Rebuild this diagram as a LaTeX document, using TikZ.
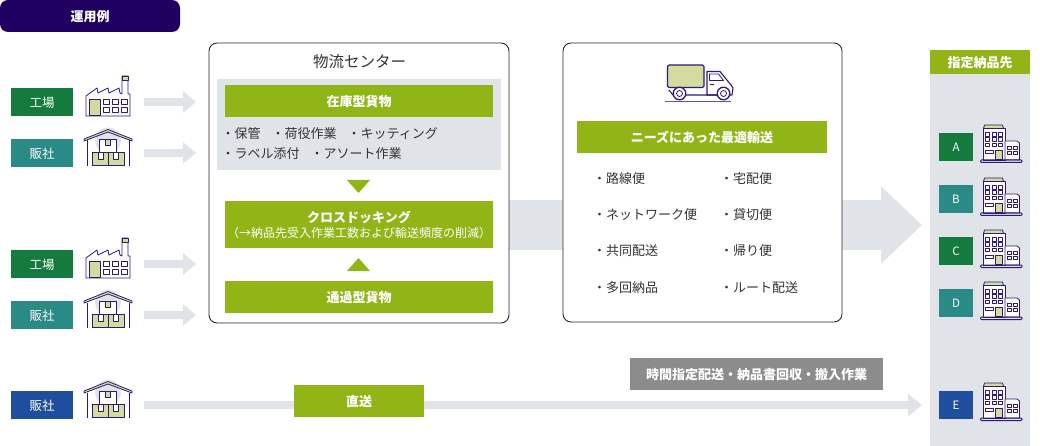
\documentclass[tikz,border=0pt]{standalone}
\usepackage{fontspec}
\setmainfont{Noto Sans CJK JP}
\usetikzlibrary{arrows.meta}
\pgfdeclarelayer{background}
\pgfsetlayers{background,main}
\definecolor{leaf}{HTML}{91B516}
\definecolor{leaflite}{HTML}{D3DC9E}
\definecolor{mist}{HTML}{E0E3E8}
\definecolor{plum}{HTML}{2D1A78}
\definecolor{night}{HTML}{1F0060}
\definecolor{forest}{HTML}{147A3E}
\definecolor{teal2}{HTML}{2A8A85}
\definecolor{navy2}{HTML}{1F4E9E}
\definecolor{ash}{HTML}{8C8C8C}
\definecolor{ink}{HTML}{333333}
\newcommand{\fs}[1]{\fontsize{#1}{#1}\selectfont}
\tikzstyle{tag}=[minimum width=62pt,minimum height=28pt,inner sep=0pt,text=white,text depth=0pt,font=\fs{12.5}]
\tikzstyle{dest}=[tag,minimum width=34pt,font=\fs{11.5}]
\tikzstyle{band}=[fill=leaf,inner sep=0pt,text=white,align=center,text depth=0pt,font=\fs{13}\bfseries]
\tikzstyle{panel}=[draw=black!85,fill=white,rounded corners=8pt,line width=0.9pt,inner sep=0pt]
\tikzstyle{item}=[anchor=west,inner sep=0pt,text=ink,font=\fs{13}]
\tikzstyle{flow}=[draw=mist,line width=8pt,-{Triangle[length=13pt,width=21pt]}]
\tikzstyle{icon}=[draw=plum,line width=0.8pt,line join=round]
\tikzset{
  factory/.pic={
    \path[icon,fill=white] (0,40) -- (0,20) -- (11,12) -- (12,17) -- (22,12) -- (23,17) -- (33,12) -- (34,17) -- (36,18) -- (36,0) -- (42,0) -- (42,18) -- (44,18) -- (44,40) -- cycle;
    \path[icon,fill=leaflite] (36,0) rectangle (42,4);
    \path[icon,fill=leaflite] (3.5,23) rectangle (14,39.5);
    \foreach \wx in {17,26,35}
      \foreach \wy in {23,31}
        \path[icon,line width=0.7pt] (\wx,\wy) rectangle +(6,5);
  },
  storehouse/.pic={
    \fill[mist] (24,11) circle (13);
    \path[icon] (3,11) -- (3,36.5) (45,11) -- (45,36.5);
    \path[icon,fill=white] (15.5,9.5) rectangle (32,23);
    \path[icon,fill=leaflite] (21,9.5) rectangle (26.5,16);
    \path[icon,fill=leaflite] (8,23) rectangle (24,36);
    \path[icon,fill=leaflite] (24,23) rectangle (40,36);
    \path[icon,fill=white,line width=0.7pt] (14,23) rectangle (19,29.5);
    \path[icon,fill=white,line width=0.7pt] (29.5,23) rectangle (34.5,29.5);
    \path[icon,fill=leaflite] (0,9.5) -- (24,0) -- (48,9.5) -- (48,11.5) -- (24,2.5) -- (0,11.5) -- cycle;
  },
  office/.pic={
    \path[icon,fill=leaflite] (2.5,3.5) -- (3.5,0) -- (21.5,0) -- (22.5,3.5) -- cycle;
    \path[icon,fill=white] (2,3.5) rectangle (24,35);
    \path[icon,fill=white] (24,16) -- (36,16) -- (38.5,18) -- (38.5,35) -- (24,35) -- cycle;
    \foreach \wx in {4.5,11,17.5}
      \foreach \wy in {7.5,12.5,18}
        \path[icon,line width=0.6pt] (\wx,\wy) rectangle +(4,3.5);
    \foreach \wx in {26.5,32}
      \foreach \wy in {21,26}
        \path[icon,line width=0.6pt] (\wx,\wy) rectangle +(4,3.5);
    \path[icon,line width=0.6pt] (4.5,25) rectangle (12,28.5);
    \path[icon,fill=leaflite] (14.5,25) rectangle (21,34.5);
    \path[icon,rounded corners=1pt,line width=1pt] (-0.5,35) rectangle (41,37.5);
  },
  lorry/.pic={
    \path[icon,fill=leaflite,rounded corners=1.5pt,line width=1.1pt] (1.5,0) rectangle (38,22.5);
    \path[icon,fill=white,line width=1.1pt] (41,30) -- (41,6.5) -- (54,6.5) -- (65,20) -- (67,23) -- (66,30) -- cycle;
    \path[icon,fill=white,line width=0.8pt] (43.5,9) -- (52.5,9) -- (57.5,15.5) -- (43.5,15.5) -- cycle;
    \path[icon,line width=1.1pt] (3,25) -- (7,30) -- (58,30);
    \path[icon] (43.5,19) -- (48,19);
    \foreach \wx in {13.5,57.5} {
      \path[icon,fill=white,line width=1.3pt] (\wx,28.5) circle (6.3);
      \path[icon] (\wx,28.5) circle (3);
    }
    \draw[plum!75,line width=1.2pt] (-1,36.5) -- (64.5,36.5);
  }
}
\begin{document}
\begin{tikzpicture}[x=1pt,y=-1pt]
    \useasboundingbox (0,0) rectangle (1040,446);
    % Heading and the column on the right
    \node[fill=night,rounded corners=8pt,minimum width=180pt,minimum height=32pt,inner sep=0pt,text=white,text depth=0pt,font=\fs{13}\bfseries] (title) at (90,16) {運用例};
    \node[fill=mist,minimum width=100pt,minimum height=396pt,inner sep=0pt] (column) at (980,248) {};
    \node[band,minimum width=100pt,minimum height=24pt] (columnhead) at (980,62) {指定納品先};
    % First we draw the two panels
    \node[panel,minimum width=300pt,minimum height=280pt] (center) at (359,183) {};
    \node[panel,minimum width=279pt,minimum height=279pt] (service) at (702.5,182.5) {};
    \node[fill=mist,minimum width=284pt,minimum height=91pt,inner sep=0pt] (stock) at (359,124.5) {};
    \node[inner sep=0pt,text=ink,font=\fs{15.5}] (centername) at (359.5,61.5) {物流センター};
    \foreach \pos/\name/\high/\txt in {{(359,101)/held/32/在庫型貨物}, {(359,224.5)/cross/47/{クロスドッキング\\[2pt]\fontseries{m}\fs{12}\selectfont（→納品先受入作業工数および輸送頻度の削減）}}, {(359,297)/pass/32/通過型貨物}}
        \node[band,minimum width=268pt,minimum height=\high pt] (\name) at \pos {\txt};
    \node[band,minimum width=250pt,minimum height=32pt] (needs) at (702,137) {ニーズにあった最適輸送};
    \foreach \pos/\name/\txt in {{(221.5,133.7)/a/・保管}, {(271.5,133.7)/b/・荷役作業}, {(347.5,133.7)/c/・キッティング}, {(221.5,153.7)/d/・ラベル添付}, {(310.5,153.7)/e/・アソート作業}}
        \node[item] (\name) at \pos {\txt};
    \foreach \pos/\name/\txt in {{(593,178.7)/f/・路線便}, {(593,214.7)/g/・ネットワーク便}, {(593,250.7)/h/・共同配送}, {(593,287.7)/i/・多回納品}, {(720,178.7)/j/・宅配便}, {(720,214.7)/k/・貸切便}, {(720,250.7)/l/・帰り便}, {(720,287.7)/m/・ルート配送}}
        \node[item] (\name) at \pos {\txt};
    % Small triangles between the bands
    \fill[leaf] (347,180) -- (370,180) -- (358.5,193) -- cycle;
    \fill[leaf] (347,271) -- (370,271) -- (358.5,258) -- cycle;
    % Labels on the left
    \foreach \pos/\name/\col/\txt in {{(42,102)/s1/forest/工場}, {(42,153)/s2/teal2/販社}, {(42,264)/s3/forest/工場}, {(42,315)/s4/teal2/販社}, {(42,405)/s5/navy2/販社}}
        \node[tag,fill=\col] (\name) at \pos {\txt};
    % Labels on the right
    \foreach \pos/\name/\col in {{(956,147)/A/forest}, {(956,199)/B/teal2}, {(956,251)/C/forest}, {(956,303)/D/teal2}, {(956,405)/E/navy2}}
        \node[dest,fill=\col] (\name) at \pos {\name};
    % Icons
    \foreach \pos in {{(86,76)}, {(86,238)}}
        \pic at \pos {factory};
    \foreach \pos in {{(84,129.5)}, {(84,291.5)}, {(84,381.5)}}
        \pic at \pos {storehouse};
    \foreach \pos in {{(981,125)}, {(981,178)}, {(981,230)}, {(981,282)}, {(981,383)}}
        \pic at \pos {office};
    \pic at (666,65) {lorry};
    % Then connect everything with arrows
    \foreach \name/\ypos in {s1/102, s2/153, s3/264, s4/315} {
        \coordinate (from\name) at (144,\ypos);
        \coordinate (to\name) at (196,\ypos);
        \path[flow] (from\name) -- (to\name);
    }
    \coordinate (bigtip) at (922,225);
    \begin{pgfonlayer}{background}
        \path[draw=mist,line width=50pt,-{Triangle[length=41pt,width=75pt]}] (center.east |- bigtip) -- (bigtip);
    \end{pgfonlayer}
    \coordinate (fromdirect) at (144,405);
    \coordinate (todirect) at (922,405);
    \path[draw=mist,line width=8pt,-{Triangle[length=14pt,width=22pt]}] (fromdirect) -- (todirect);
    \node[band,minimum width=130pt,minimum height=32pt] (direct) at (359,401) {直送};
    \node[fill=ash,minimum width=253pt,minimum height=32pt,inner sep=0pt,text=white,text depth=0pt,font=\fs{13}\bfseries] (extras) at (756.5,374) {時間指定配送・納品書回収・搬入作業};
\end{tikzpicture}
\end{document}
